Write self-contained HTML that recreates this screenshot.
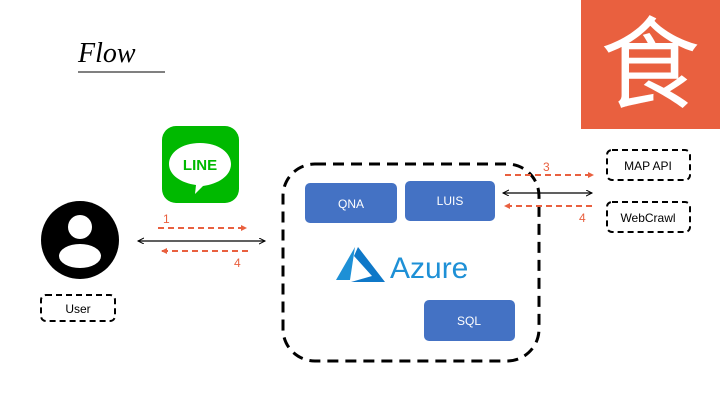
<!DOCTYPE html>
<html><head><meta charset="utf-8"><style>
body{margin:0;width:720px;height:405px;background:#fff;overflow:hidden;font-family:"Liberation Sans",sans-serif}
</style></head><body>
<svg width="720" height="405" viewBox="0 0 720 405" xmlns="http://www.w3.org/2000/svg">
<defs>
<marker id="bk" markerUnits="userSpaceOnUse" markerWidth="8" markerHeight="8" refX="6" refY="3" orient="auto-start-reverse"><path d="M0,0 L6,3 L0,6" fill="none" stroke="#000" stroke-width="1"/></marker>
<marker id="rd" markerUnits="userSpaceOnUse" markerWidth="8" markerHeight="8" refX="5" refY="3" orient="auto"><path d="M0,0 L6,3 L0,6Z" fill="#E9603F"/></marker>
</defs>
<text x="78" y="62" font-family="Liberation Serif,serif" font-style="italic" font-size="28" fill="#000">Flow</text>
<line x1="78" y1="72" x2="165" y2="72" stroke="#000" stroke-width="1"/>
<rect x="581" y="0" width="139" height="129" fill="#E9603F"/>
<text x="650" y="100" text-anchor="middle" font-family="Noto Sans CJK SC,sans-serif" font-size="100" fill="#fff">食</text>
<rect x="162" y="126" width="77" height="77" rx="14" fill="#00B900"/>
<path d="M200,143 C219,143 231,153 231,164 C231,176 218,184 203,186 L195,194 L196,185 C181,183 169,175 169,164 C169,153 181,143 200,143Z" fill="#fff"/>
<text x="200" y="170" text-anchor="middle" font-weight="bold" font-size="15" fill="#00B900">LINE</text>
<circle cx="80" cy="240" r="39" fill="#000"/>
<circle cx="80" cy="227" r="12" fill="#fff"/>
<ellipse cx="80" cy="256" rx="21" ry="12" fill="#fff"/>
<rect x="41" y="295" width="74" height="26" rx="5" fill="none" stroke="#000" stroke-width="2" stroke-dasharray="6,4"/>
<text x="78" y="313" text-anchor="middle" font-size="12">User</text>
<line x1="138" y1="241" x2="265" y2="241" stroke="#000" stroke-width="1.3" marker-start="url(#bk)" marker-end="url(#bk)"/>
<line x1="158" y1="228" x2="246" y2="228" stroke="#E9603F" stroke-width="2" stroke-dasharray="6,4" marker-end="url(#rd)"/>
<line x1="248" y1="251" x2="162" y2="251" stroke="#E9603F" stroke-width="2" stroke-dasharray="6,4" marker-end="url(#rd)"/>
<text x="163" y="223" font-size="12" fill="#E9603F">1</text>
<text x="234" y="267" font-size="12" fill="#E9603F">4</text>
<rect x="283" y="164" width="256" height="197" rx="32" fill="none" stroke="#000" stroke-width="3" stroke-dasharray="11,7"/>
<rect x="305" y="183" width="92" height="40" rx="5" fill="#4472C4"/>
<text x="351" y="208" text-anchor="middle" font-size="12" fill="#fff">QNA</text>
<rect x="405" y="181" width="90" height="40" rx="5" fill="#4472C4"/>
<text x="450" y="205" text-anchor="middle" font-size="12" fill="#fff">LUIS</text>
<rect x="424" y="300" width="91" height="41" rx="5" fill="#4472C4"/>
<text x="469" y="325" text-anchor="middle" font-size="12" fill="#fff">SQL</text>
<path d="M355,247 L336,280 L350,280 Z" fill="#1E90D6"/>
<path d="M358,247 L385,282 L351,282 L372,276 L354,256 Z" fill="#0F78C8"/>
<text x="390" y="278" font-size="30" fill="#1E90D6">Azure</text>
<line x1="505" y1="175" x2="593" y2="175" stroke="#E9603F" stroke-width="2" stroke-dasharray="6,4" marker-end="url(#rd)"/>
<line x1="503" y1="193" x2="592" y2="193" stroke="#000" stroke-width="1.3" marker-start="url(#bk)" marker-end="url(#bk)"/>
<line x1="592" y1="206" x2="505" y2="206" stroke="#E9603F" stroke-width="2" stroke-dasharray="6,4" marker-end="url(#rd)"/>
<text x="543" y="171" font-size="12" fill="#E9603F">3</text>
<text x="579" y="222" font-size="12" fill="#E9603F">4</text>
<rect x="607" y="150" width="83" height="30" rx="5" fill="none" stroke="#000" stroke-width="2" stroke-dasharray="6,4"/>
<text x="648" y="170" text-anchor="middle" font-size="12">MAP API</text>
<rect x="607" y="202" width="83" height="30" rx="5" fill="none" stroke="#000" stroke-width="2" stroke-dasharray="6,4"/>
<text x="648" y="222" text-anchor="middle" font-size="12">WebCrawl</text>
</svg>
</body></html>
